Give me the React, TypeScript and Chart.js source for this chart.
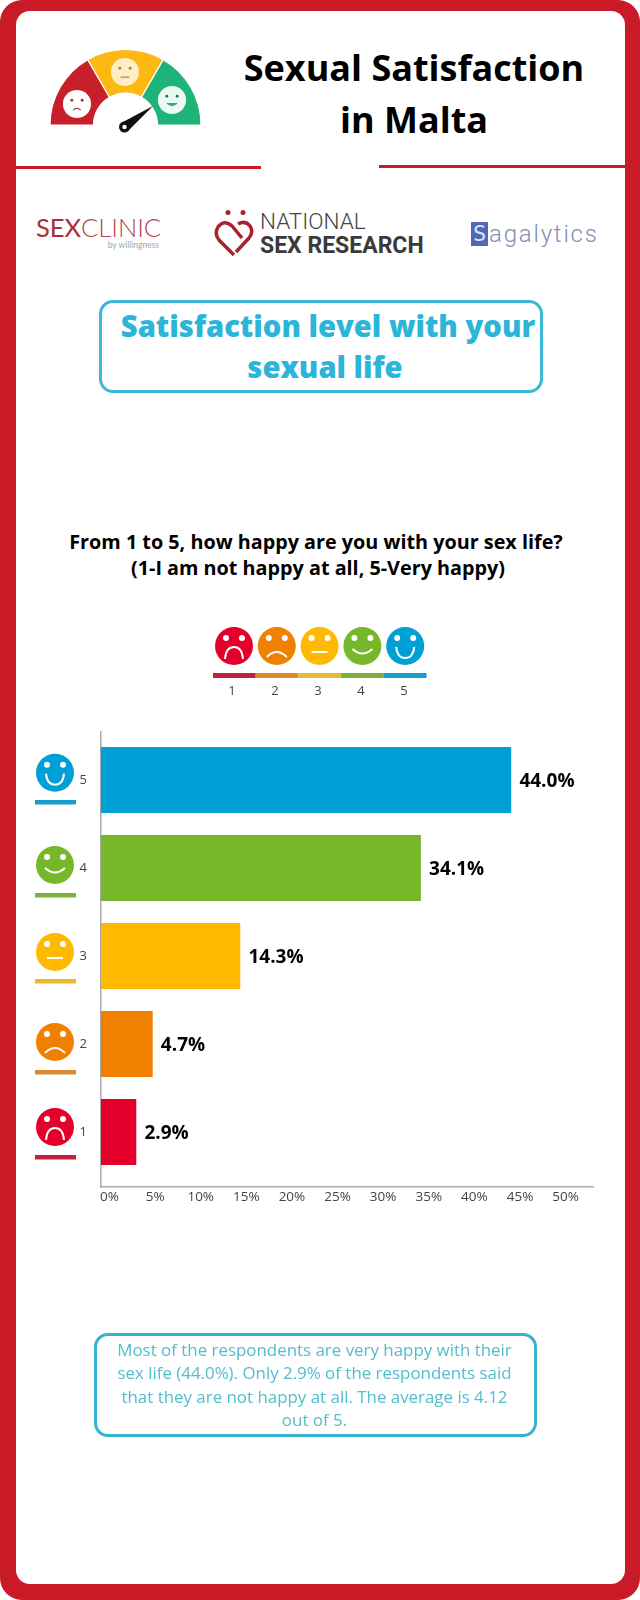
import React, { useEffect, useRef } from "react";
import { Chart, registerables } from "chart.js";

Chart.register(...registerables);

const categories = [5, 4, 3, 2, 1];
const values = [44.0, 34.1, 14.3, 4.7, 2.9];
const barColors = ["#009fd6", "#76b82a", "#ffb900", "#f08000", "#e4002b"];
const legendNumbers = [1, 2, 3, 4, 5];
const legendColors = ["#e4002b", "#f08000", "#ffb900", "#76b82a", "#009fd6"];
const legendBarColors = ["#c0213f", "#e08a2b", "#e9b92f", "#7fb13a", "#1a9ccb"];
const moods = [-2, -1, 0, 1, 2];
const noteLines = [
  "Most of the respondents are very happy with their",
  "sex life (44.0%). Only 2.9% of the respondents said",
  "that they are not happy at all. The average is 4.12",
  "out of 5.",
];

const FONT = '"Open Sans", sans-serif';
const RED = "#c91a27";

function abs(left: number, top: number, extra: React.CSSProperties = {}): React.CSSProperties {
  return { position: "absolute", left, top, ...extra };
}

function Face({ cx, cy, r = 19, color, mood, fg = "#fff" }: any) {
  const k = r / 19;
  const mouth =
    mood === 2
      ? "M -9 1 Q -8 12 0 12 Q 8 12 9 1"
      : mood === 1
      ? "M -10 3 Q 0 12 10 3"
      : mood === 0
      ? "M -8 6 L 8 6"
      : mood === -1
      ? "M -10 11 Q 0 1 10 11"
      : "M -9 13 Q -8 1 0 1 Q 8 1 9 13";
  return (
    <g transform={`translate(${cx} ${cy}) scale(${k})`}>
      <circle r={19} fill={color} />
      <circle cx={-8} cy={-8} r={3} fill={fg} />
      <circle cx={8} cy={-8} r={3} fill={fg} />
      <path d={mouth} fill="none" stroke={fg} strokeWidth={2} />
    </g>
  );
}

function sector(cx: number, cy: number, r0: number, r1: number, a0: number, a1: number) {
  const p = (r: number, a: number) => {
    const t = (a * Math.PI) / 180;
    return `${cx - r * Math.cos(t)} ${cy - r * Math.sin(t)}`;
  };
  return `M ${p(r1, a0)} A ${r1} ${r1} 0 0 1 ${p(r1, a1)} L ${p(r0, a1)} A ${r0} ${r0} 0 0 0 ${p(r0, a0)} Z`;
}

function Gauge() {
  const cx = 125.5;
  const cy = 125;
  return (
    <g>
      <path d={sector(cx, cy, 32, 75.5, 0, 60)} fill="#c8202a" stroke="#fff" strokeWidth={1.2} />
      <path d={sector(cx, cy, 32, 75.5, 60, 120)} fill="#fdb813" stroke="#fff" strokeWidth={1.2} />
      <path d={sector(cx, cy, 32, 75.5, 120, 180)} fill="#1fb37a" stroke="#fff" strokeWidth={1.2} />
      <g transform="translate(77 104) scale(0.74)">
        <circle r={19} fill="#fff" />
        <circle cx={-7} cy={-5} r={2} fill="#a33" />
        <circle cx={7} cy={-5} r={2} fill="#a33" />
        <path d="M -5 8 Q 0 4 5 8" stroke="#a33" strokeWidth={1.6} fill="none" />
      </g>
      <g transform="translate(125 72) scale(0.74)">
        <circle r={19} fill="#fdeec4" />
        <circle cx={-7} cy={-5} r={2} fill="#a83" />
        <circle cx={7} cy={-5} r={2} fill="#a83" />
        <path d="M -6 7 L 6 7" stroke="#a83" strokeWidth={1.6} fill="none" />
      </g>
      <g transform="translate(172 100) scale(0.74)">
        <circle r={19} fill="#eafaf3" />
        <circle cx={-7} cy={-5} r={2} fill="#176" />
        <circle cx={7} cy={-5} r={2} fill="#176" />
        <path d="M -8 4 Q 0 13 8 4 Z" fill="#1fb37a" />
      </g>
      <path d="M 153 106 L 128.5 130.5 L 121 123 Z" fill="#111" />
      <circle cx={124.5} cy={127} r={5.5} fill="#111" />
      <circle cx={124.5} cy={127} r={2.2} fill="#fff" />
    </g>
  );
}

function HeartLogo() {
  return (
    <g fill="none" stroke="#a8222f" strokeWidth={3.5}>
      <circle cx={228} cy={212.5} r={2.5} fill="#a8222f" stroke="none" />
      <circle cx={243} cy={212.5} r={2.5} fill="#a8222f" stroke="none" />
      <path d="M 234 255 L 219 240 Q 214 234 218 227 Q 224 219 232 226 L 242 238" />
      <path d="M 236 252 L 249 238 Q 254 232 250 226 Q 245 220 238 224" />
    </g>
  );
}

const lineText = (
  text: string,
  centerX: number,
  centerY: number,
  size: number,
  weight: number,
  color: string
) => (
  <div
    key={`${text}-${centerX}`}
    style={abs(centerX - 300, centerY - 30, {
      width: 600,
      height: 60,
      lineHeight: "60px",
      textAlign: "center",
      fontFamily: FONT,
      fontSize: size,
      fontWeight: weight,
      color,
      whiteSpace: "nowrap",
    })}
  >
    {text}
  </div>
);

const axisFaces = [
  { n: 5, cy: 772.7, ly: 802, c: "#009fd6", l: "#1a9ccb", m: 2 },
  { n: 4, cy: 865, ly: 895, c: "#76b82a", l: "#7fb13a", m: 1 },
  { n: 3, cy: 952, ly: 981, c: "#ffb900", l: "#e9b92f", m: 0 },
  { n: 2, cy: 1042, ly: 1072, c: "#f08000", l: "#d98a35", m: -1 },
  { n: 1, cy: 1127, ly: 1157, c: "#e4002b", l: "#c0213f", m: -2 },
];

export default function App() {
  const ref = useRef<HTMLCanvasElement>(null);

  useEffect(() => {
    const valueLabels = {
      id: "valueLabels",
      afterDatasetsDraw(chart: any) {
        const ctx = chart.ctx;
        const meta = chart.getDatasetMeta(0);
        ctx.save();
        ctx.font = `700 19px ${FONT}`;
        ctx.fillStyle = "#000";
        ctx.textAlign = "left";
        ctx.textBaseline = "middle";
        meta.data.forEach((bar: any, i: number) => {
          ctx.fillText(`${values[i].toFixed(1)}%`, bar.x + 8.5, bar.y + 2);
        });
        ctx.restore();
      },
    };
    const chart = new Chart(ref.current as HTMLCanvasElement, {
      type: "bar",
      data: {
        datasets: [
          {
            data: categories.map((c, i) => ({ x: values[i], y: c })),
            backgroundColor: barColors,
            base: -0.93,
            barThickness: 65.3,
          } as any,
        ],
      },
      options: {
        indexAxis: "y",
        responsive: false,
        animation: false,
        devicePixelRatio: 1,
        layout: { padding: { left: 20, right: 47, top: 32, bottom: 13 } },
        plugins: { legend: { display: false }, tooltip: { enabled: false } },
        scales: {
          x: {
            type: "linear",
            min: -0.93,
            max: 53,
            grid: { display: false, drawTicks: false },
            border: { color: "#aaaaaa", width: 1.5 },
            afterFit: (s: any) => {
              s.height = 30;
            },
            ticks: {
              stepSize: 5,
              includeBounds: false,
              autoSkip: false,
              maxRotation: 0,
              padding: 2,
              color: "#444",
              font: { family: "Open Sans", size: 13.5 },
              callback: (v: any) => `${v}%`,
            },
          },
          y: {
            type: "linear",
            offset: false,
            min: 0.375,
            max: 5.545,
            grid: { display: false, drawTicks: false, offset: false },
            border: { color: "#aaaaaa", width: 1.5 },
            afterFit: (s: any) => {
              s.width = 81;
            },
            ticks: {
              stepSize: 1,
              includeBounds: false,
              padding: 14,
              color: "#444",
              font: { family: "Open Sans", size: 13 },
            },
          },
        },
      },
      plugins: [valueLabels],
    } as any);
    return () => chart.destroy();
  }, []);

  return (
    <div style={abs(0, 0, { width: 640, height: 1600, overflow: "hidden", background: "#fff" })}>
      <div style={abs(0, 0, { width: 640, height: 1600, background: RED, borderRadius: 22 })} />
      <div style={abs(16, 11, { width: 608.5, height: 1573, background: "#fff", borderRadius: 14 })} />

      {lineText("Sexual Satisfaction", 414, 68, 36, 700, "#000")}
      {lineText("in Malta", 414, 120, 36, 700, "#000")}

      <div style={abs(16, 166, { width: 245, height: 3, background: RED })} />
      <div style={abs(379, 165, { width: 245.5, height: 3, background: RED })} />

      <div style={abs(36, 211, { fontFamily: "Lato, sans-serif", fontSize: 25.5, lineHeight: "32px", color: "#a8303c", whiteSpace: "nowrap" })}>
        SEX<span style={{ fontWeight: 300, color: "#b5444f" }}>CLINIC</span>
      </div>
      <div style={abs(106, 239, { fontFamily: "Lato, sans-serif", fontSize: 8.5, lineHeight: "12px", color: "#9aa", width: 53, textAlign: "right", whiteSpace: "nowrap" })}>
        by willingness
      </div>
      <div style={abs(260, 206, { fontFamily: "Roboto, sans-serif", fontWeight: 300, fontSize: 22.5, lineHeight: "30px", color: "#444", whiteSpace: "nowrap" })}>
        NATIONAL
      </div>
      <div style={abs(260, 231, { fontFamily: "Roboto, sans-serif", fontWeight: 700, fontSize: 23, lineHeight: "30px", color: "#3a3a3a", whiteSpace: "nowrap" })}>
        SEX RESEARCH
      </div>
      <div style={abs(471, 222, { width: 17, height: 24, background: "#4f68b8", color: "#dfe4f5", fontFamily: "DejaVu Sans Mono, monospace", fontSize: 22, lineHeight: "24px", textAlign: "center" })}>
        S
      </div>
      <div style={abs(489, 219, { fontFamily: "Roboto, sans-serif", fontWeight: 300, fontSize: 24, lineHeight: "30px", color: "#7f8fb5", letterSpacing: 1.8, whiteSpace: "nowrap" })}>
        agalytics
      </div>

      <div style={abs(99, 300, { width: 444, height: 93, boxSizing: "border-box", border: "3px solid #3db8d8", borderRadius: 14 })} />
      {lineText("Satisfaction level with your", 328, 326, 29.2, 800, "#2cb5d9")}
      {lineText("sexual life", 325, 367, 29.2, 800, "#2cb5d9")}

      {lineText("From 1 to 5, how happy are you with your sex life?", 316, 542, 19.8, 700, "#000")}
      {lineText("(1-I am not happy at all, 5-Very happy)", 318, 568, 19.8, 700, "#000")}

      <canvas ref={ref} width={640} height={530} style={abs(0, 700, { width: 640, height: 530 })} />

      <svg width={640} height={1600} style={abs(0, 0, { pointerEvents: "none" })}>
        <Gauge />
        <HeartLogo />
        {legendNumbers.map((n, i) => (
          <Face key={n} cx={234 + i * 42.8} cy={646} color={legendColors[i]} mood={moods[i]} />
        ))}
        {legendNumbers.map((n, i) => (
          <rect key={n} x={213 + i * 42.7} y={673} width={42.7} height={5} fill={legendBarColors[i]} />
        ))}
        {axisFaces.map((f) => (
          <g key={f.n}>
            <Face cx={55} cy={f.cy} color={f.c} mood={f.m} />
            <rect x={35} y={f.ly - 2} width={41} height={4.5} fill={f.l} />
          </g>
        ))}
      </svg>
      {legendNumbers.map((n, i) => lineText(String(n), 232 + i * 43, 690, 13, 400, "#444"))}

      <div style={abs(94, 1333, { width: 443, height: 104, boxSizing: "border-box", border: "3px solid #35b3cf", borderRadius: 14 })} />
      {noteLines.map((t, i) => lineText(t, 314.5, 1350 + i * 23.3, 16.9, 400, "#55bccd"))}
    </div>
  );
}
